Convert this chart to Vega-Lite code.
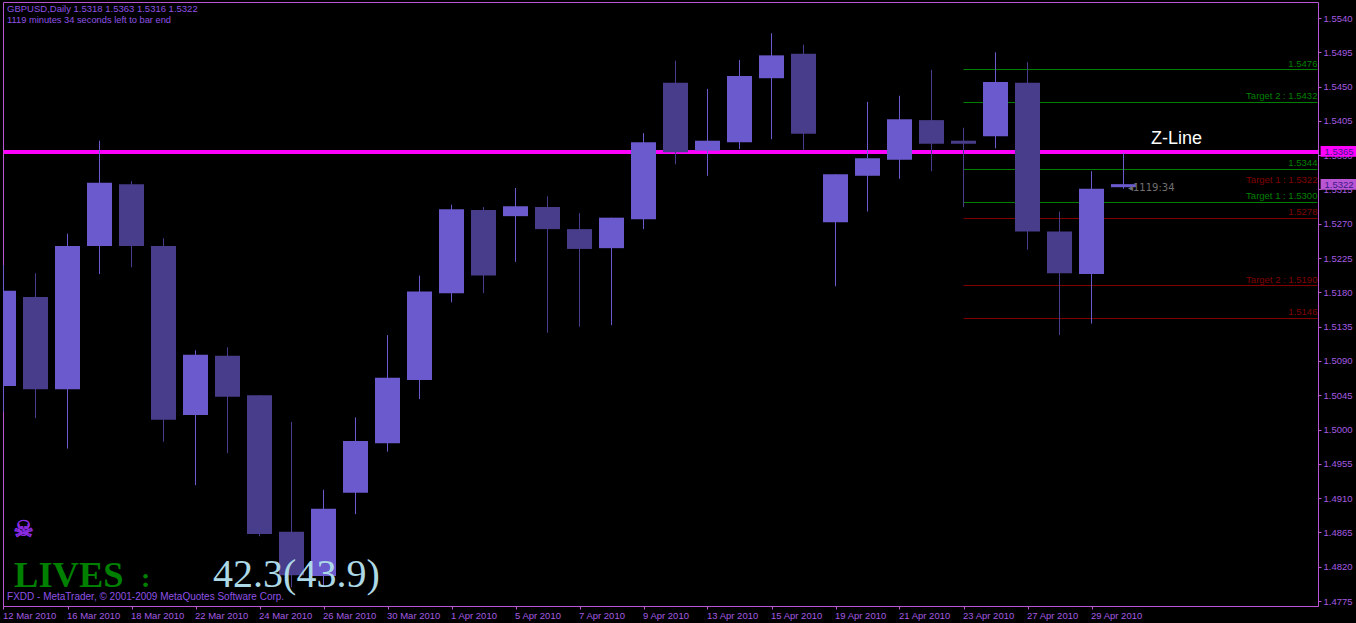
{"$schema":"https://vega.github.io/schema/vega-lite/v6.json","width":1315,"height":604,"autosize":{"type":"none"},"padding":{"left":3,"top":2,"right":38,"bottom":17},"background":"#000000","config":{"view":{"stroke":"#BA55D3","strokeWidth":1},"font":"Liberation Sans","axis":{"labelOverlap":false,"labelBound":false,"labelFlush":false}},"datasets":{"candles":[
{"date":"12 Mar 2010","bar":0,"open":1.5057,"high":1.5216,"low":1.5023,"close":1.5182,"dir":"up"},
{"date":"15 Mar 2010","bar":1,"open":1.5174,"high":1.5205,"low":1.5015,"close":1.5053,"dir":"down"},
{"date":"16 Mar 2010","bar":2,"open":1.5053,"high":1.5257,"low":1.4975,"close":1.5241,"dir":"up"},
{"date":"17 Mar 2010","bar":3,"open":1.5241,"high":1.5379,"low":1.5204,"close":1.5324,"dir":"up"},
{"date":"18 Mar 2010","bar":4,"open":1.5322,"high":1.5326,"low":1.5213,"close":1.5241,"dir":"down"},
{"date":"19 Mar 2010","bar":5,"open":1.5241,"high":1.5251,"low":1.4984,"close":1.5013,"dir":"down"},
{"date":"22 Mar 2010","bar":6,"open":1.5019,"high":1.5104,"low":1.4927,"close":1.5098,"dir":"up"},
{"date":"23 Mar 2010","bar":7,"open":1.5097,"high":1.5108,"low":1.4969,"close":1.5043,"dir":"down"},
{"date":"24 Mar 2010","bar":8,"open":1.5045,"high":1.5045,"low":1.486,"close":1.4863,"dir":"down"},
{"date":"25 Mar 2010","bar":9,"open":1.4866,"high":1.501,"low":1.4793,"close":1.4809,"dir":"down"},
{"date":"26 Mar 2010","bar":10,"open":1.4808,"high":1.4921,"low":1.4796,"close":1.4896,"dir":"up"},
{"date":"29 Mar 2010","bar":11,"open":1.4917,"high":1.5016,"low":1.4889,"close":1.4985,"dir":"up"},
{"date":"30 Mar 2010","bar":12,"open":1.4982,"high":1.5124,"low":1.4971,"close":1.5068,"dir":"up"},
{"date":"31 Mar 2010","bar":13,"open":1.5065,"high":1.5202,"low":1.504,"close":1.5181,"dir":"up"},
{"date":"1 Apr 2010","bar":14,"open":1.5179,"high":1.5295,"low":1.5167,"close":1.5289,"dir":"up"},
{"date":"2 Apr 2010","bar":15,"open":1.5288,"high":1.5292,"low":1.5179,"close":1.5202,"dir":"down"},
{"date":"5 Apr 2010","bar":16,"open":1.528,"high":1.5317,"low":1.522,"close":1.5293,"dir":"up"},
{"date":"6 Apr 2010","bar":17,"open":1.5292,"high":1.5306,"low":1.5127,"close":1.5263,"dir":"down"},
{"date":"7 Apr 2010","bar":18,"open":1.5263,"high":1.5284,"low":1.5135,"close":1.5237,"dir":"down"},
{"date":"8 Apr 2010","bar":19,"open":1.5238,"high":1.5278,"low":1.5137,"close":1.5278,"dir":"up"},
{"date":"9 Apr 2010","bar":20,"open":1.5276,"high":1.5389,"low":1.5263,"close":1.5377,"dir":"up"},
{"date":"12 Apr 2010","bar":21,"open":1.5455,"high":1.5484,"low":1.5348,"close":1.5364,"dir":"down"},
{"date":"13 Apr 2010","bar":22,"open":1.5366,"high":1.5447,"low":1.5333,"close":1.5379,"dir":"up"},
{"date":"14 Apr 2010","bar":23,"open":1.5377,"high":1.5485,"low":1.5368,"close":1.5464,"dir":"up"},
{"date":"15 Apr 2010","bar":24,"open":1.5461,"high":1.552,"low":1.5381,"close":1.5491,"dir":"up"},
{"date":"16 Apr 2010","bar":25,"open":1.5493,"high":1.5505,"low":1.5367,"close":1.5388,"dir":"down"},
{"date":"19 Apr 2010","bar":26,"open":1.5272,"high":1.5335,"low":1.5188,"close":1.5335,"dir":"up"},
{"date":"20 Apr 2010","bar":27,"open":1.5333,"high":1.543,"low":1.5286,"close":1.5356,"dir":"up"},
{"date":"21 Apr 2010","bar":28,"open":1.5354,"high":1.5438,"low":1.5329,"close":1.5407,"dir":"up"},
{"date":"22 Apr 2010","bar":29,"open":1.5406,"high":1.5472,"low":1.5339,"close":1.5375,"dir":"down"},
{"date":"23 Apr 2010","bar":30,"open":1.5379,"high":1.5396,"low":1.5292,"close":1.5375,"dir":"down"},
{"date":"26 Apr 2010","bar":31,"open":1.5385,"high":1.5495,"low":1.5369,"close":1.5456,"dir":"up"},
{"date":"27 Apr 2010","bar":32,"open":1.5455,"high":1.5482,"low":1.5236,"close":1.526,"dir":"down"},
{"date":"28 Apr 2010","bar":33,"open":1.526,"high":1.5286,"low":1.5124,"close":1.5205,"dir":"down"},
{"date":"29 Apr 2010","bar":34,"open":1.5204,"high":1.5339,"low":1.5139,"close":1.5316,"dir":"up"},
{"date":"30 Apr 2010","bar":35,"open":1.5318,"high":1.5363,"low":1.5316,"close":1.5322,"dir":"up"}
],"levels":[
{"label":"1.5476","level":1.547243,"start":30,"end":41.06,"side":"buy","line":true},
{"label":"Target 2 : 1.5432","level":1.542914,"start":30,"end":41.06,"side":"buy","line":true},
{"label":"1.5344","level":1.534123,"start":30,"end":41.06,"side":"buy","line":true},
{"label":"Target 1 : 1.5322","level":1.53201,"start":30,"end":41.06,"side":"sell","line":false},
{"label":"Target 1 : 1.5300","level":1.529793,"start":30,"end":41.06,"side":"buy","line":true},
{"label":"1.5278","level":1.527694,"start":30,"end":41.06,"side":"sell","line":true},
{"label":"Target 2 : 1.5190","level":1.518902,"start":30,"end":41.06,"side":"sell","line":true},
{"label":"1.5146","level":1.514573,"start":30,"end":41.06,"side":"sell","line":true}
],"one":[{"n":1}]},
"layer":[
{"data":{"name":"one"},"mark":{"type":"rule","color":"#FF00FF","strokeWidth":4,"clip":true},"encoding":{"y":{"datum":1.53642,"type":"quantitative","scale":{"domain":[1.47685,1.5561],"nice":false,"zero":false},"axis":{"orient":"right","title":null,"grid":false,"domain":false,"tickCount":40,"values":[1.554,1.5495,1.545,1.5405,1.536,1.5315,1.527,1.5225,1.518,1.5135,1.509,1.5045,1.5,1.4955,1.491,1.4865,1.482,1.4775],"format":".4f","tickColor":"#BA55D3","tickSize":3,"labelColor":"#A45BE0","labelFont":"Liberation Sans","labelFontSize":9.5,"labelPadding":2,"labelOverlap":false}},"x":{"datum":0,"type":"quantitative","scale":{"domain":[-0.015625,41.078125],"nice":false,"zero":false,"padding":0},"axis":{"orient":"bottom","title":null,"grid":false,"domain":false,"values":[0,2,4,6,8,10,12,14,16,18,20,22,24,26,28,30,32,34],"labelExpr":"['12 Mar 2010','16 Mar 2010','18 Mar 2010','22 Mar 2010','24 Mar 2010','26 Mar 2010','30 Mar 2010','1 Apr 2010','5 Apr 2010','7 Apr 2010','9 Apr 2010','13 Apr 2010','15 Apr 2010','19 Apr 2010','21 Apr 2010','23 Apr 2010','27 Apr 2010','29 Apr 2010'][datum.value/2]","labelAlign":"left","labelOffset":-1,"tickColor":"#BA55D3","tickSize":3,"labelColor":"#A45BE0","labelFont":"Liberation Sans","labelFontSize":9.5,"labelPadding":1}},"x2":{"datum":41.078}}},
{"data":{"name":"levels"},"transform":[{"filter":"datum.line"}],"mark":{"type":"rule","strokeWidth":1},"encoding":{"x":{"field":"start","type":"quantitative"},"x2":{"field":"end"},"y":{"field":"level","type":"quantitative"},"color":{"field":"side","type":"nominal","scale":{"domain":["buy","sell","up","down"],"range":["#008000","#800000","#6A5ACD","#483D8B"]},"legend":null}}},
{"data":{"name":"levels"},"mark":{"type":"text","align":"right","baseline":"middle","dy":-6,"fontSize":9.5,"font":"Liberation Sans"},"encoding":{"x":{"field":"end","type":"quantitative"},"y":{"field":"level","type":"quantitative"},"text":{"field":"label"},"color":{"field":"side","type":"nominal","legend":null}}},
{"data":{"name":"candles"},"mark":{"type":"rule","strokeWidth":1,"clip":true},"encoding":{"x":{"field":"bar","type":"quantitative"},"y":{"field":"low","type":"quantitative"},"y2":{"field":"high"},"color":{"field":"dir","type":"nominal","legend":null}}},
{"data":{"name":"candles"},"mark":{"type":"bar","size":25,"clip":true},"encoding":{"x":{"field":"bar","type":"quantitative"},"y":{"field":"open","type":"quantitative"},"y2":{"field":"close"},"color":{"field":"dir","type":"nominal","legend":null}}},
{"data":{"name":"one"},"mark":{"type":"rect","fill":"#FF00FF"},"encoding":{"x":{"datum":41.16,"type":"quantitative"},"x2":{"datum":42.28},"y":{"datum":1.53721,"type":"quantitative"},"y2":{"datum":1.5358}}},
{"data":{"name":"one"},"mark":{"type":"rect","fill":"#BA55D3"},"encoding":{"x":{"datum":41.16,"type":"quantitative"},"x2":{"datum":42.28},"y":{"datum":1.53288,"type":"quantitative"},"y2":{"datum":1.53147}}},
{"data":{"name":"one"},"mark":{"type":"text","align":"left","baseline":"middle","fontSize":9.5,"color":"#3A1A8A","font":"Liberation Sans"},"encoding":{"x":{"datum":41.28,"type":"quantitative"},"y":{"datum":1.53648,"type":"quantitative"},"text":{"value":"1.5365"}}},
{"data":{"name":"one"},"mark":{"type":"text","align":"left","baseline":"middle","fontSize":9.5,"color":"#3A1A8A","font":"Liberation Sans"},"encoding":{"x":{"datum":41.28,"type":"quantitative"},"y":{"datum":1.53215,"type":"quantitative"},"text":{"value":"1.5322"}}},
{"data":{"name":"one"},"mark":{"type":"text","align":"center","baseline":"middle","fontSize":18,"color":"#FFFFFF","font":"Liberation Sans"},"encoding":{"x":{"datum":36.66,"type":"quantitative"},"y":{"datum":1.5381,"type":"quantitative"},"text":{"value":"Z-Line"}}},
{"data":{"name":"one"},"mark":{"type":"text","align":"left","baseline":"middle","fontSize":10,"color":"#707070","font":"DejaVu Sans"},"encoding":{"x":{"datum":35.14,"type":"quantitative"},"y":{"datum":1.53175,"type":"quantitative"},"text":{"value":"◂1119:34"}}},
{"data":{"name":"one"},"mark":{"type":"text","align":"left","baseline":"middle","fontSize":9.5,"color":"#8F52E6","font":"Liberation Sans"},"encoding":{"x":{"datum":0.11,"type":"quantitative"},"y":{"datum":1.5552,"type":"quantitative"},"text":{"value":"GBPUSD,Daily  1.5318 1.5363 1.5316 1.5322"}}},
{"data":{"name":"one"},"mark":{"type":"text","align":"left","baseline":"middle","fontSize":9.3,"color":"#8F52E6","font":"Liberation Sans"},"encoding":{"x":{"datum":0.11,"type":"quantitative"},"y":{"datum":1.5537,"type":"quantitative"},"text":{"value":"1119 minutes 34 seconds left to bar end"}}},
{"data":{"name":"one"},"mark":{"type":"text","align":"left","baseline":"middle","fontSize":10,"color":"#8F52E6","font":"Liberation Sans"},"encoding":{"x":{"datum":0.11,"type":"quantitative"},"y":{"datum":1.47806,"type":"quantitative"},"text":{"value":"FXDD - MetaTrader, © 2001-2009 MetaQuotes Software Corp."}}},
{"data":{"name":"one"},"mark":{"type":"text","align":"left","baseline":"alphabetic","fontSize":36.5,"fontWeight":"bold","color":"#008000","font":"Liberation Serif"},"encoding":{"x":{"datum":0.33,"type":"quantitative"},"y":{"datum":1.47936,"type":"quantitative"},"text":{"value":"LIVES"}}},
{"data":{"name":"one"},"mark":{"type":"text","align":"left","baseline":"alphabetic","fontSize":28,"fontWeight":"bold","color":"#008000","font":"Liberation Serif"},"encoding":{"x":{"datum":4.3,"type":"quantitative"},"y":{"datum":1.47936,"type":"quantitative"},"text":{"value":":"}}},
{"data":{"name":"one"},"mark":{"type":"text","align":"left","baseline":"alphabetic","fontSize":40,"color":"#ADD8E6","font":"Liberation Serif"},"encoding":{"x":{"datum":6.55,"type":"quantitative"},"y":{"datum":1.47936,"type":"quantitative"},"text":{"value":"42.3(43.9)"}}},
{"data":{"name":"one"},"mark":{"type":"text","align":"center","baseline":"middle","fontSize":23,"color":"#8A2BE2","stroke":"#8A2BE2","strokeWidth":0.7,"font":"DejaVu Sans"},"encoding":{"x":{"datum":0.63,"type":"quantitative"},"y":{"datum":1.4868,"type":"quantitative"},"text":{"value":"☠"}}}
]}
